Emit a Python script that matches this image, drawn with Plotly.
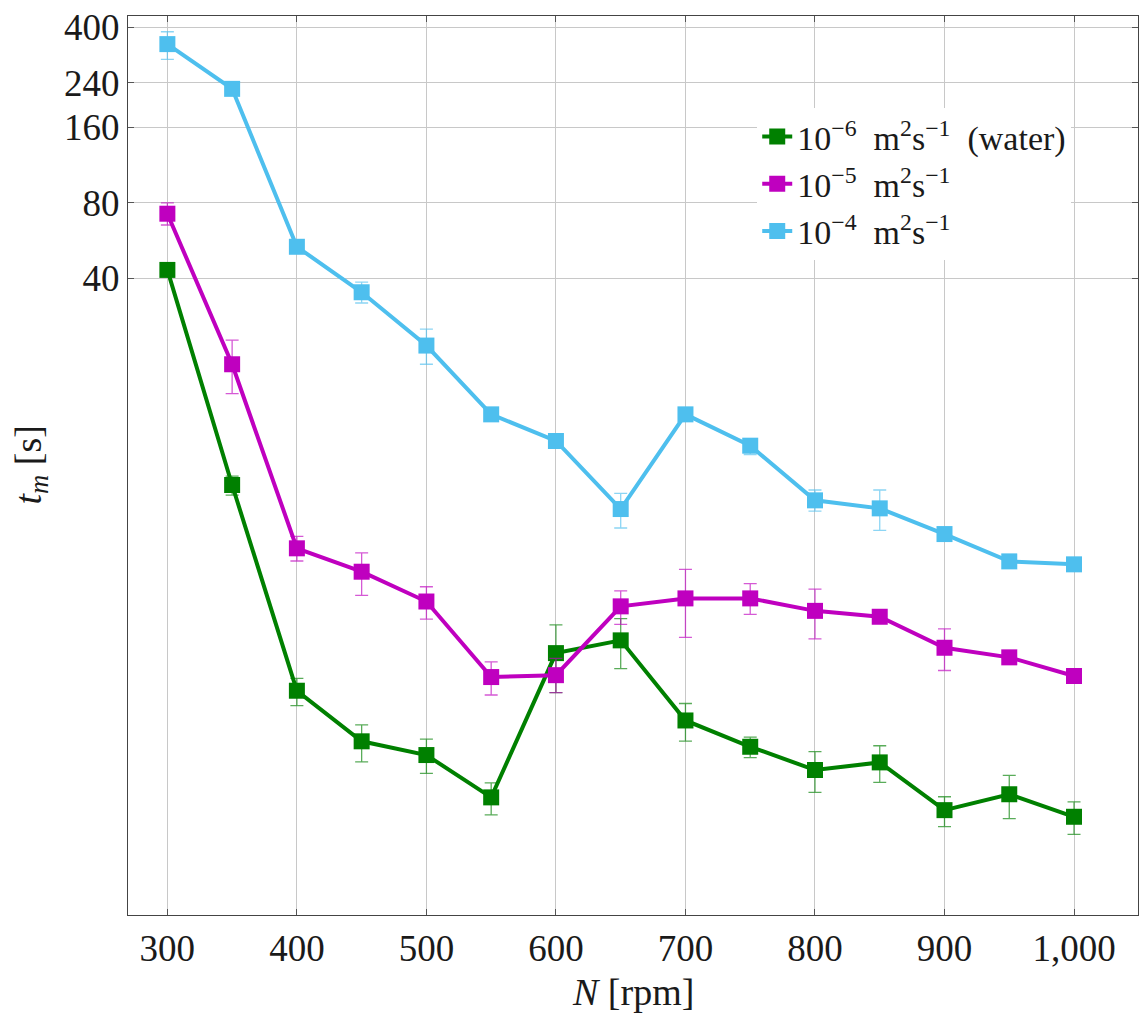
import plotly.graph_objects as go

rpm = [300, 350, 400, 450, 500, 550, 600, 650, 700, 750, 800, 850, 900, 950, 1000]

# 1e-6 m^2/s (water)
t_water = [43.2, 6.02, 0.914, 0.575, 0.507, 0.344, 1.29, 1.45, 0.696, 0.547, 0.442, 0.474, 0.306, 0.354, 0.288]
t_water_hi = [44.6, 6.53, 1.024, 0.669, 0.587, 0.393, 1.67, 1.77, 0.813, 0.598, 0.523, 0.552, 0.346, 0.421, 0.330]
t_water_lo = [41.8, 5.49, 0.797, 0.476, 0.429, 0.293, 0.898, 1.12, 0.576, 0.495, 0.360, 0.395, 0.263, 0.283, 0.245]

# 1e-5 m^2/s
t_1e5 = [72.3, 18.2, 3.37, 2.72, 2.07, 1.036, 1.054, 1.98, 2.13, 2.13, 1.90, 1.80, 1.355, 1.241, 1.046]
t_1e5_hi = [79.8, 22.7, 3.76, 3.23, 2.37, 1.19, 1.23, 2.28, 2.78, 2.44, 2.32, 1.86, 1.61, 1.28, 1.08]
t_1e5_lo = [65.2, 13.9, 3.00, 2.19, 1.76, 0.879, 0.898, 1.68, 1.49, 1.84, 1.47, 1.74, 1.10, 1.20, 1.01]

# 1e-4 m^2/s
t_1e4 = [342, 227, 53.4, 35.2, 21.6, 11.5, 9.01, 4.83, 11.5, 8.63, 5.23, 4.86, 3.84, 2.99, 2.91]
t_1e4_hi = [383, 236, 55.5, 38.6, 25.1, 11.9, 9.35, 5.58, 11.9, 9.0, 5.75, 5.75, 3.98, 3.10, 3.01]
t_1e4_lo = [297.5, 218, 51.4, 31.9, 18.2, 11.1, 8.7, 4.06, 11.1, 7.96, 4.74, 3.97, 3.70, 2.89, 2.81]

y_ticks = [40, 80, 160, 240, 400]
x_ticks = [300, 400, 500, 600, 700, 800, 900, 1000]

SP = "\u2002"
series = [
    ("10<sup>\u22126</sup>" + SP + "m<sup>2</sup>s<sup>\u22121</sup>" + SP + "(water)", t_water, t_water_hi, t_water_lo, "#008000", "rgba(0,128,0,0.65)"),
    ("10<sup>\u22125</sup>" + SP + "m<sup>2</sup>s<sup>\u22121</sup>", t_1e5, t_1e5_hi, t_1e5_lo, "#bf00bf", "rgba(191,0,191,0.65)"),
    ("10<sup>\u22124</sup>" + SP + "m<sup>2</sup>s<sup>\u22121</sup>", t_1e4, t_1e4_hi, t_1e4_lo, "#4ebfee", "rgba(78,191,238,0.65)"),
]

FONT = "Liberation Serif"
TXT = "#1a1a1a"
fig = go.Figure()
for name, y, hi, lo, col, ecol in series:
    fig.add_trace(go.Scatter(
        x=rpm, y=y, name=name, mode="lines+markers",
        line=dict(color=col, width=4),
        marker=dict(symbol="square", size=16, color=col),
        error_y=dict(type="data", symmetric=False,
                     array=[h - v for h, v in zip(hi, y)],
                     arrayminus=[v - l for v, l in zip(y, lo)],
                     color=ecol, thickness=1.3, width=6.5),
    ))

fig.update_layout(
    width=1139, height=1015,
    margin=dict(l=128, r=1, t=16, b=100),
    paper_bgcolor="white", plot_bgcolor="white",
    font=dict(family=FONT, size=37, color=TXT),
    showlegend=True,
    legend=dict(x=0.623, y=0.8977, xanchor="left", yanchor="top",
                bgcolor="white", borderwidth=0,
                font=dict(family=FONT, size=34, color=TXT),
                itemwidth=30, tracegroupgap=0),
    xaxis=dict(
        range=[269.6, 1049.4], tickvals=x_ticks, tickformat=",d",
        showgrid=True, gridcolor="#c8c8c8", gridwidth=1,
        showline=True, linecolor="#444", linewidth=1.3, mirror="allticks",
        ticks="inside", ticklen=6, tickcolor="#555", tickwidth=1,
        zeroline=False, automargin=False,
    ),
    yaxis=dict(
        type="log", range=[-0.9315, 2.6459],
        tickvals=y_ticks, ticktext=[str(v) for v in y_ticks],
        showgrid=True, gridcolor="#c8c8c8", gridwidth=1,
        showline=True, linecolor="#444", linewidth=1.3, mirror="allticks",
        ticks="inside", ticklen=6, tickcolor="#555", tickwidth=1,
        zeroline=False, automargin=False,
    ),
    annotations=[
        dict(text="<i>N</i> [rpm]", xref="paper", yref="paper", x=0.5, y=-0.0857,
             xanchor="center", yanchor="middle", showarrow=False,
             font=dict(family=FONT, size=38, color=TXT)),
        dict(text="<i>t<sub>m</sub></i> [s]", xref="paper", yref="paper", x=-0.097, y=0.5,
             xanchor="center", yanchor="middle", showarrow=False, textangle=-90,
             font=dict(family=FONT, size=38, color=TXT)),
    ],
)

fig.write_html("out.html")
